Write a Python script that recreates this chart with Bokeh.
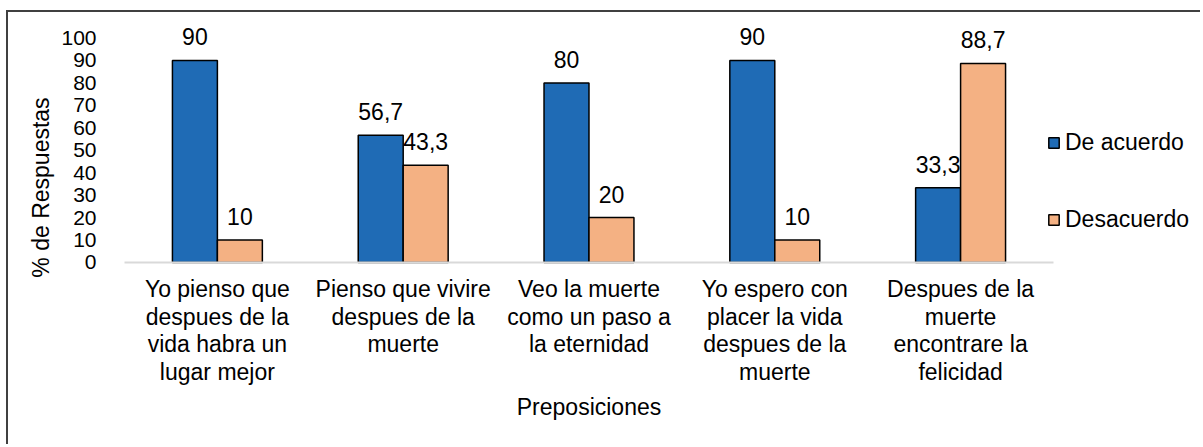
from math import pi
from bokeh.plotting import figure
from bokeh.models import (ColumnDataSource, Range1d, FixedTicker, Legend, LegendItem,
                          LinearAxis, Label, CustomJSTickFormatter)
from bokeh.transform import dodge
from bokeh.core.properties import value
from bokeh.embed import file_html
from bokeh.resources import INLINE

category_lines = [
    ["Yo pienso que", "despues de la", "vida habra un", "lugar mejor"],
    ["Pienso que vivire", "despues de la", "muerte"],
    ["Veo la muerte", "como un paso a", "la eternidad"],
    ["Yo espero con", "placer la vida", "despues de la", "muerte"],
    ["Despues de la", "muerte", "encontrare la", "felicidad"],
]
categories = [" ".join(lines) for lines in category_lines]
de_acuerdo = [90, 56.7, 80, 90, 33.3]
desacuerdo = [10, 43.3, 20, 10, 88.7]
series_names = ["De acuerdo", "Desacuerdo"]
y_ticks = [0, 10, 20, 30, 40, 50, 60, 70, 80, 90, 100]
x_title = "Preposiciones"
y_title = "% de Respuestas"

FONT = "Liberation Sans"
BLUE = "#1f6bb5"
PEACH = "#f4b183"
W, H = 1194, 434


def fmt(v):
    return f"{v:g}".replace(".", ",")


n = len(categories)
centers = [i + 0.5 for i in range(n)]

src = ColumnDataSource(dict(
    x=centers,
    a=de_acuerdo,
    d=desacuerdo,
    a_lbl=[fmt(v) for v in de_acuerdo],
    d_lbl=[fmt(v) for v in desacuerdo],
))

# frame covers the whole canvas; category band from 0 to n
p = figure(
    x_range=Range1d(-0.6243, 5.802),
    y_range=Range1d(-81.98, 111.38),
    width=W, height=H,
    output_backend="svg", toolbar_location=None,
    x_axis_location=None, y_axis_location=None,
    min_border=0,
)
p.styles = {"border-top": "2px solid #404040", "border-left": "2px solid #404040",
            "margin-left": "6px", "margin-top": "10px"}
p.outline_line_color = None
p.xgrid.grid_line_color = None
p.ygrid.grid_line_color = None

ra = p.vbar(x=dodge("x", -0.121), top="a", width=0.242, source=src,
            fill_color=BLUE, line_color="black", line_width=1.5)
rd = p.vbar(x=dodge("x", 0.121), top="d", width=0.242, source=src,
            fill_color=PEACH, line_color="black", line_width=1.5)

for col, lbl, off in (("a", "a_lbl", -0.121), ("d", "d_lbl", 0.121)):
    p.text(x=dodge("x", off), y=col, text=lbl, source=src,
           text_font=value(FONT), text_font_size="23px", text_color="black",
           text_align="center", text_baseline="bottom", y_offset=-15)

# y axis at x = 0
yax = LinearAxis(fixed_location=0, ticker=FixedTicker(ticks=y_ticks))
yax.axis_line_color = None
yax.major_tick_line_color = None
yax.minor_tick_line_color = None
yax.major_label_standoff = 22
yax.major_label_text_font = FONT
yax.major_label_text_font_size = "21px"
yax.major_label_text_color = "black"
p.add_layout(yax, "left")

# x axis at y = 0: one axis per text line of the category labels
for k in range(4):
    lines_k = [lines[k] if k < len(lines) else "" for lines in category_lines]
    ax = LinearAxis(fixed_location=0, ticker=FixedTicker(ticks=centers), bounds=(0, n))
    ax.formatter = CustomJSTickFormatter(
        args=dict(lines=lines_k),
        code="const i = Math.round(tick - 0.5); const s = lines[i]; return s === undefined ? '' : s;")
    ax.major_tick_line_color = None
    ax.minor_tick_line_color = None
    ax.major_tick_out = 0
    ax.major_tick_in = 0
    ax.major_label_standoff = round(14 + 27.7 * k)
    ax.major_label_text_font = FONT
    ax.major_label_text_font_size = "23px"
    ax.major_label_text_color = "black"
    if k == 0:
        ax.axis_line_color = "#d9d9d9"
        ax.axis_line_width = 2
    else:
        ax.axis_line_color = None
    p.add_layout(ax, "below")

p.add_layout(Label(x=n / 2, y=-64.6, text=x_title, text_font=FONT, text_font_size="23px",
                   text_color="black", text_align="center", text_baseline="middle"))
p.add_layout(Label(x=-0.452, y=33.4, text=y_title, angle=pi / 2, text_font=FONT,
                   text_font_size="23px", text_color="black",
                   text_align="center", text_baseline="middle"))

legend = Legend(items=[LegendItem(label=series_names[0], renderers=[ra]),
                       LegendItem(label=series_names[1], renderers=[rd])],
                location=(1039, 213))
legend.border_line_alpha = 0
legend.background_fill_alpha = 0
legend.padding = 0
legend.margin = 0
legend.glyph_width = 13
legend.glyph_height = 13
legend.label_standoff = 5
legend.spacing = 50
legend.label_text_font = FONT
legend.label_text_font_size = "23px"
legend.label_text_color = "black"
p.add_layout(legend)

open("out.html", "w").write(file_html(p, INLINE))
